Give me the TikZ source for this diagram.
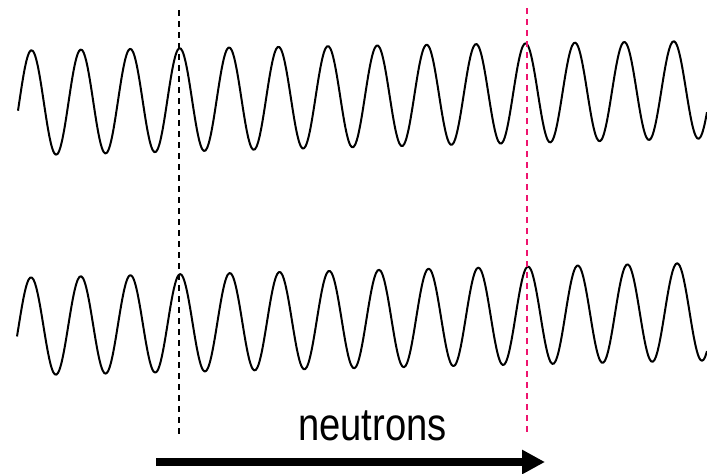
\documentclass[tikz,border=0pt]{standalone}
\usepackage{fontspec}
\setmainfont{Liberation Sans}
\usetikzlibrary{arrows.meta}
\definecolor{pinkred}{RGB}{238,20,110}

\begin{document}
\begin{tikzpicture}[x=1pt,y=-1pt,
    wave/.style={black,line width=2pt,line join=round},
    marker/.style={line width=2pt,dash pattern=on 6pt off 5pt},
    beam/.style={-{Triangle[length=23pt,width=23pt]},line width=8pt}]
  \useasboundingbox (0,0) rectangle (707,474);
  % the two waves
  \draw[wave] plot[smooth,domain=18:707,samples=420]
    (\x,{102.5-0.0194*(\x-45)-(52.5-0.0054*(\x-45))*sin(7.28745*(\x-19.15))});
  \draw[wave] plot[smooth,domain=17:707,samples=420]
    (\x,{326-0.0217*(\x-45)-49*sin(7.24346*(\x-18.6))});
  % markers
  \coordinate (blacktop) at (179,10);
  \coordinate (blackbot) at (179,436);
  \coordinate (redtop) at (527,8);
  \coordinate (redbot) at (527,432);
  \draw[marker] (blacktop) -- (blackbot);
  \draw[marker,pinkred] (redtop) -- (redbot);
  \coordinate (beamstart) at (156,462);
  \coordinate (beamend) at (545,462);
  \draw[beam] (beamstart) -- (beamend);
  \node[anchor=base,xscale=0.83,inner sep=0pt,font=\fontsize{46}{50}\selectfont] (label) at (372.5,440) {neutrons};
\end{tikzpicture}
\end{document}
